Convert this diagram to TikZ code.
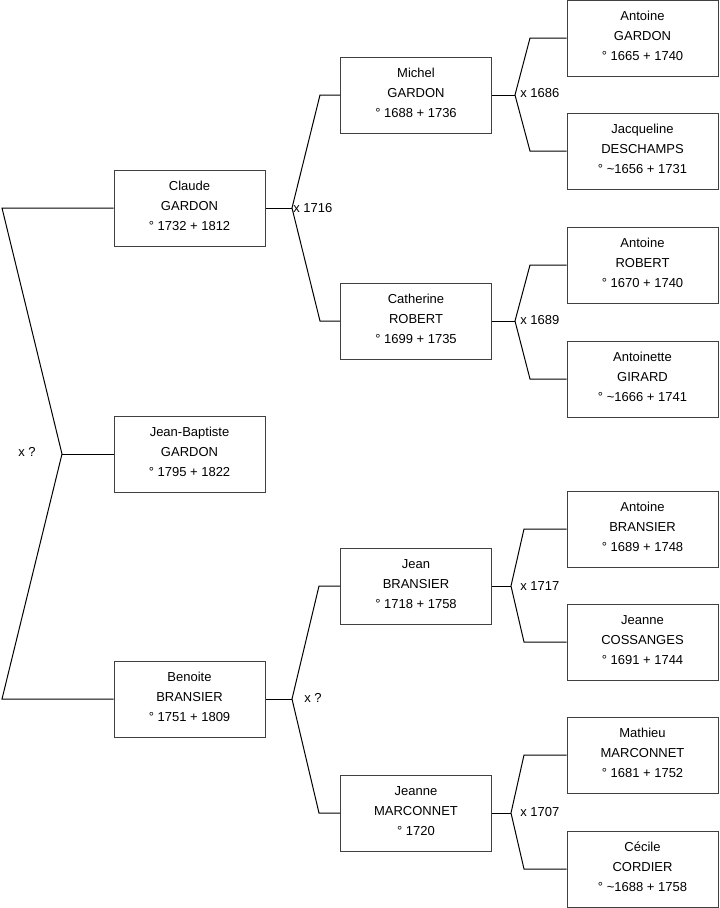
\documentclass[tikz,border=0pt]{standalone}
\usepackage{fontspec}
\setmainfont{Liberation Sans}
\begin{document}
\begin{tikzpicture}[x=0.75pt,y=-0.75pt,
  person/.style={draw=black!75, line width=0.75pt, fill=white, minimum width=113.25pt, minimum height=57pt,
    inner sep=0pt, align=center, text depth=3pt, font=\fontsize{9.75pt}{15pt}\selectfont},
  link/.style={draw=black, line width=0.75pt},
  mlabel/.style={anchor=west, inner sep=0pt, font=\fontsize{9.75pt}{11pt}\selectfont}]
\useasboundingbox (0,0) rectangle (719,908);
% level 1
\node[person] (claude) at (189.5,208) {Claude\\GARDON\\° 1732 + 1812};
\node[person] (jb) at (189.5,454) {Jean-Baptiste\\GARDON\\° 1795 + 1822};
\node[person] (benoite) at (189.5,699) {Benoite\\BRANSIER\\° 1751 + 1809};
% level 2
\node[person] (michel) at (416,95) {Michel\\GARDON\\° 1688 + 1736};
\node[person] (catherine) at (416,321) {Catherine\\ROBERT\\° 1699 + 1735};
\node[person] (jean) at (416,586) {Jean\\BRANSIER\\° 1718 + 1758};
\node[person] (jeannem) at (416,813) {Jeanne\\MARCONNET\\° 1720};
% level 3
\node[person] (antoineg) at (642.5,38) {Antoine\\GARDON\\° 1665 + 1740};
\node[person] (jacqueline) at (642.5,151) {Jacqueline\\DESCHAMPS\\° \textasciitilde1656 + 1731};
\node[person] (antoiner) at (642.5,265) {Antoine\\ROBERT\\° 1670 + 1740};
\node[person] (antoinette) at (642.5,379) {Antoinette\\GIRARD\\° \textasciitilde1666 + 1741};
\node[person] (antoineb) at (642.5,529) {Antoine\\BRANSIER\\° 1689 + 1748};
\node[person] (jeannec) at (642.5,642) {Jeanne\\COSSANGES\\° 1691 + 1744};
\node[person] (mathieu) at (642.5,755) {Mathieu\\MARCONNET\\° 1681 + 1752};
\node[person] (cecile) at (642.5,869) {Cécile\\CORDIER\\° \textasciitilde1688 + 1758};

% coordinates
\coordinate (a0) at (2,208);
\coordinate (v0) at (62,454);
\coordinate (b0) at (2,699);
\coordinate (v1) at (292,208);
\coordinate (a1) at (320,95);
\coordinate (b1) at (320,321);
\coordinate (v2) at (292,699);
\coordinate (a2) at (319,586);
\coordinate (b2) at (319,813);
\coordinate (v3) at (515,95);
\coordinate (a3) at (530,38);
\coordinate (b3) at (530,151);
\coordinate (v4) at (515,321);
\coordinate (a4) at (530,265);
\coordinate (b4) at (530,379);
\coordinate (v5) at (511,586);
\coordinate (a5) at (524,529);
\coordinate (b5) at (524,642);
\coordinate (v6) at (511,813);
\coordinate (a6) at (524,755);
\coordinate (b6) at (524,869);

% connectors
\draw[link] (claude.west) -- (a0) -- (v0) -- (b0) -- (benoite.west);
\draw[link] (v0) -- (jb.west);
\draw[link] (michel.west) -- (a1) -- (v1) -- (b1) -- (catherine.west);
\draw[link] (claude.east) -- (v1);
\draw[link] (jean.west) -- (a2) -- (v2) -- (b2) -- (jeannem.west);
\draw[link] (benoite.east) -- (v2);
\draw[link] (antoineg.west) -- (a3) -- (v3) -- (b3) -- (jacqueline.west);
\draw[link] (michel.east) -- (v3);
\draw[link] (antoiner.west) -- (a4) -- (v4) -- (b4) -- (antoinette.west);
\draw[link] (catherine.east) -- (v4);
\draw[link] (antoineb.west) -- (a5) -- (v5) -- (b5) -- (jeannec.west);
\draw[link] (jean.east) -- (v5);
\draw[link] (mathieu.west) -- (a6) -- (v6) -- (b6) -- (cecile.west);
\draw[link] (jeannem.east) -- (v6);

% marriage labels
\node[mlabel] (m0) at (18,452) {x ?};
\node[mlabel] (m1) at (293,208) {x 1716};
\node[mlabel] (m2) at (304,698) {x ?};
\node[mlabel] (m3) at (520,93) {x 1686};
\node[mlabel] (m4) at (520,320) {x 1689};
\node[mlabel] (m5) at (520,586) {x 1717};
\node[mlabel] (m6) at (520,812) {x 1707};
\end{tikzpicture}
\end{document}
